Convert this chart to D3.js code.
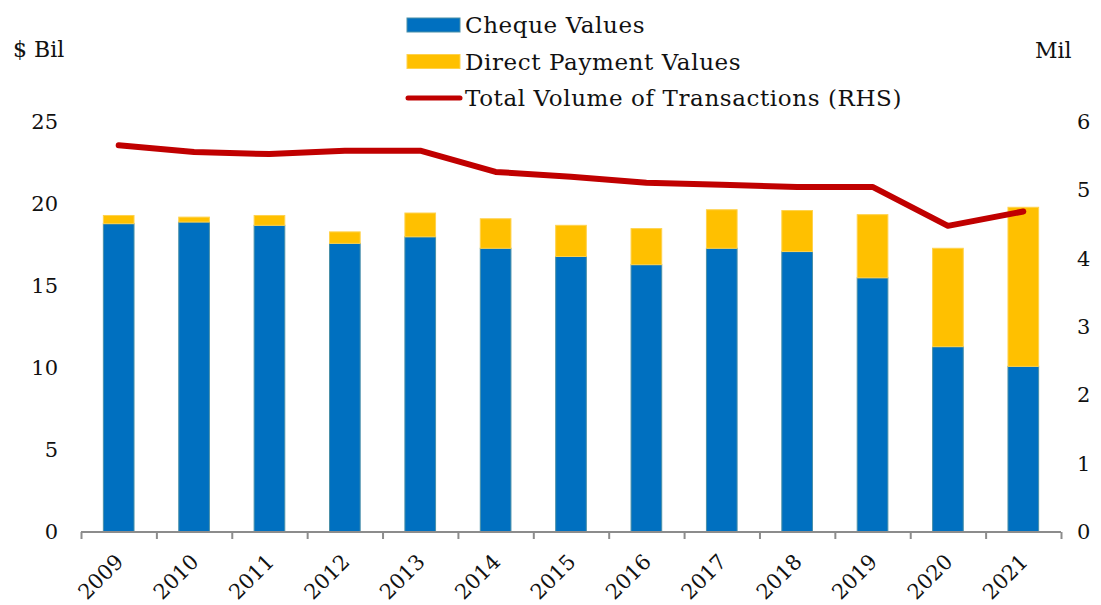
<!DOCTYPE html>
<html>
<head>
<meta charset="utf-8">
<script src="https://d3js.org/d3.v7.min.js"></script>
<style>
	body{margin:0;background:white;}
	text{font-family:'DejaVu Serif',serif;fill:#111;}
</style>
</head>
<body>
<div id="chart_div"></div>
<script>
////////////////////////////////////////
////////////////////////////////////////

var years = ['2009','2010','2011','2012','2013','2014','2015','2016','2017','2018','2019','2020','2021'];
var chequeValues = [18.8,18.9,18.7,17.6,18.0,17.3,16.8,16.3,17.3,17.1,15.5,11.3,10.1];
var directValues = [0.5,0.3,0.6,0.7,1.45,1.8,1.9,2.2,2.35,2.5,3.85,6.0,9.7];
var totalVolume = [5.66,5.56,5.53,5.58,5.58,5.27,5.2,5.11,5.08,5.05,5.05,4.48,4.69];
var leftTicks = [0,5,10,15,20,25];
var rightTicks = [0,1,2,3,4,5,6];
var legendLabels = ['Cheque Values','Direct Payment Values','Total Volume of Transactions (RHS)'];

////////////////////////////////////////
////////////////////////////////////////

var w = 1101;
var h = 605;
var plotLeft = 81;
var plotRight = 1061;
var plotTop = 122;
var plotBottom = 532;

var vis = d3.select('#chart_div')
	.append('svg')
	.attr('width',w)
	.attr('height',h);

var x = d3.scaleBand()
	.domain(years)
	.range([plotLeft,plotRight])
	.paddingInner(0.58)
	.paddingOuter(0.29);

var xTicks = d3.scaleLinear()
	.domain([0,years.length])
	.range([plotLeft,plotRight]);

var yLeft = d3.scaleLinear()
	.domain([0,25])
	.range([plotBottom,plotTop]);

var yRight = d3.scaleLinear()
	.domain([0,6])
	.range([plotBottom,plotTop]);

////////////////////////////////////////
////////////////////////////////////////

var stackData = years.map(function(d,i){
	return {'year':d,'cheque':chequeValues[i],'direct':directValues[i]};
});
var series = d3.stack().keys(['cheque','direct'])(stackData);
var colors = {'cheque':'#0070C0','direct':'#FFC000'};
var edges = {'cheque':'#4a90a8','direct':'#ffd24d'};

vis.selectAll('g.series')
	.data(series)
	.enter()
		.append('g')
		.attr('class','series')
		.attr('fill',function(d){
			return colors[d.key];
		})
		.attr('stroke',function(d){
			return edges[d.key];
		})
		.attr('stroke-width',1)
		.selectAll('rect')
		.data(function(d){ return d; })
		.enter()
			.append('rect')
			.attr('x',function(d){
				return x(d.data.year)+0.5;
			})
			.attr('width',x.bandwidth()-1)
			.attr('y',function(d){
				return yLeft(d[1]);
			})
			.attr('height',function(d){
				return yLeft(d[0])-yLeft(d[1]);
			});

var line = d3.line()
	.x(function(d,i){
		return x(years[i])+x.bandwidth()/2;
	})
	.y(function(d){
		return yRight(d);
	});

vis.append('path')
	.datum(totalVolume)
	.attr('d',line)
	.attr('fill','none')
	.attr('stroke','#C00000')
	.attr('stroke-width',6)
	.attr('stroke-linecap','round')
	.attr('stroke-linejoin','round');

////////////////////////////////////////
////////////////////////////////////////

var xAxis = d3.axisBottom(xTicks)
	.tickValues(d3.range(years.length+1))
	.tickSize(7)
	.tickFormat('');

vis.append('g')
	.attr('transform','translate(0,'+plotBottom+')')
	.call(xAxis)
	.call(function(g){
		g.selectAll('path,line').attr('stroke','#8c8c8c').attr('stroke-width',2);
		g.select('path.domain').attr('d','M'+plotLeft+',0H'+plotRight);
	});

vis.selectAll('text.xlabel')
	.data(years)
	.enter()
		.append('text')
		.attr('class','xlabel')
		.attr('text-anchor','end')
		.attr('font-size',21)
		.attr('transform',function(d){
			return 'translate('+(x(d)+x.bandwidth()/2+6)+','+(plotBottom+31)+') rotate(-45)';
		})
		.text(function(d){ return d; });

vis.selectAll('text.yleft')
	.data(leftTicks)
	.enter()
		.append('text')
		.attr('class','yleft')
		.attr('text-anchor','end')
		.attr('x',58)
		.attr('y',function(d){ return yLeft(d)+7; })
		.attr('font-size',21)
		.text(function(d){ return d; });

vis.selectAll('text.yright')
	.data(rightTicks)
	.enter()
		.append('text')
		.attr('class','yright')
		.attr('text-anchor','start')
		.attr('x',1077)
		.attr('y',function(d){ return yRight(d)+7; })
		.attr('font-size',21)
		.text(function(d){ return d; });

vis.append('text')
	.attr('x',13)
	.attr('y',57)
	.attr('font-size',22)
	.text('$ Bil');

vis.append('text')
	.attr('x',1035)
	.attr('y',58)
	.attr('font-size',22)
	.text('Mil');

////////////////////////////////////////
////////////////////////////////////////

var legend = vis.selectAll('g.legend')
	.data(legendLabels)
	.enter()
		.append('g')
		.attr('class','legend')
		.attr('transform',function(d,i){
			return 'translate(407,'+(25+i*36.5)+')';
		});

legend.each(function(d,i){
	var g = d3.select(this);
	if(i<2){
		g.append('rect')
			.attr('x',0)
			.attr('y',-7)
			.attr('width',53)
			.attr('height',14)
			.attr('fill',i===0?'#0070C0':'#FFC000')
			.attr('stroke',i===0?'#4a90a8':'#ffd24d');
	}
	else{
		g.append('line')
			.attr('x1',1)
			.attr('x2',53)
			.attr('stroke','#C00000')
			.attr('stroke-width',5)
			.attr('stroke-linecap','round');
	}
	g.append('text')
		.attr('x',58)
		.attr('y',8)
		.attr('font-size',23)
		.attr('letter-spacing',0.6)
		.text(d);
});
</script>
</body>
</html>
